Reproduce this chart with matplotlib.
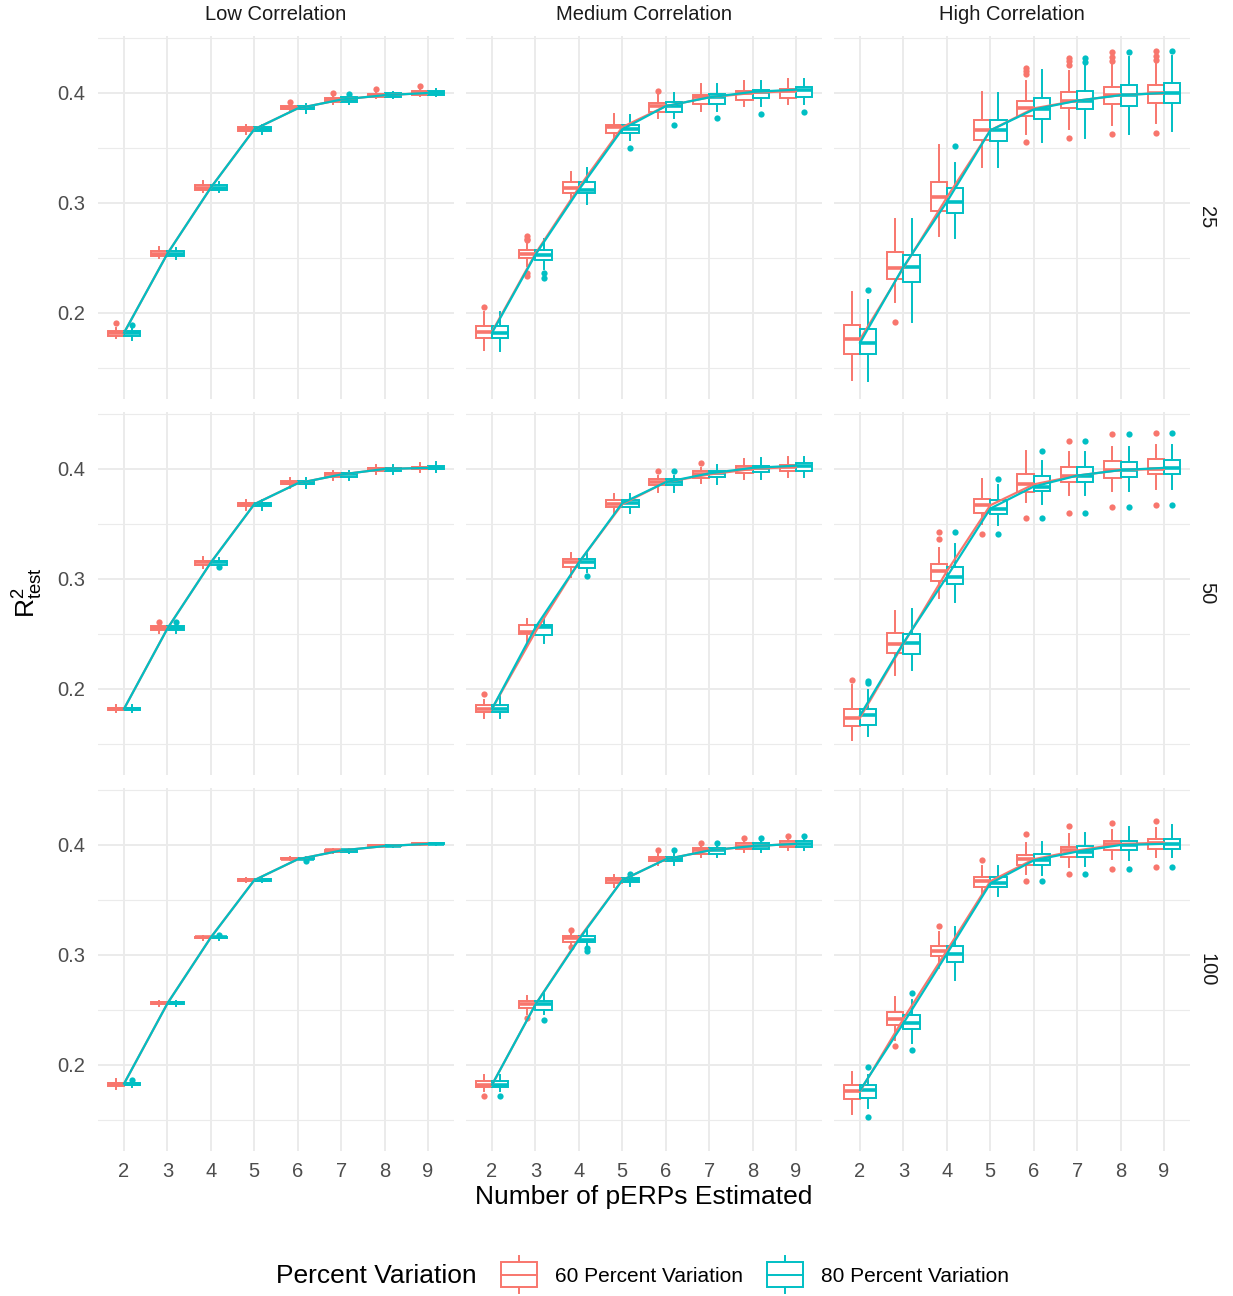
import matplotlib
matplotlib.use("Agg")
import matplotlib.pyplot as plt
from matplotlib.patches import Rectangle

plt.rcParams['font.family'] = ['Liberation Sans', 'DejaVu Sans']
plt.rcParams['mathtext.fontset'] = 'custom'
plt.rcParams['mathtext.rm'] = 'Liberation Sans'
plt.rcParams['mathtext.it'] = 'Liberation Sans:italic'

# x categories, facets, groups
n_perps = [2, 3, 4, 5, 6, 7, 8, 9]
corr_levels = ["Low Correlation", "Medium Correlation", "High Correlation"]
sample_sizes = ["25", "50", "100"]
group_labels = ["60 Percent Variation", "80 Percent Variation"]

# box stats per x: [whisker low, q1, median, q3, whisker high]
low_25_p60 = [[0.177, 0.179, 0.182, 0.184, 0.186], [0.250, 0.252, 0.254, 0.256, 0.260],
              [0.310, 0.312, 0.314, 0.316, 0.320], [0.363, 0.365, 0.367, 0.369, 0.371],
              [0.383, 0.385, 0.386, 0.388, 0.389], [0.390, 0.392, 0.394, 0.395, 0.397],
              [0.395, 0.396, 0.398, 0.399, 0.401], [0.397, 0.398, 0.400, 0.402, 0.403]]
low_25_p80 = [[0.175, 0.179, 0.182, 0.184, 0.186], [0.249, 0.252, 0.254, 0.256, 0.259],
              [0.310, 0.312, 0.314, 0.316, 0.319], [0.363, 0.365, 0.367, 0.369, 0.371],
              [0.382, 0.385, 0.386, 0.388, 0.390], [0.390, 0.392, 0.394, 0.396, 0.398],
              [0.395, 0.396, 0.398, 0.400, 0.401], [0.397, 0.398, 0.400, 0.402, 0.404]]
low_50_p60 = [[0.179, 0.181, 0.182, 0.183, 0.185], [0.251, 0.254, 0.255, 0.257, 0.259],
              [0.310, 0.313, 0.315, 0.316, 0.320], [0.363, 0.366, 0.368, 0.369, 0.372],
              [0.383, 0.386, 0.387, 0.389, 0.392], [0.390, 0.393, 0.395, 0.396, 0.398],
              [0.395, 0.398, 0.400, 0.401, 0.404], [0.397, 0.400, 0.401, 0.402, 0.405]]
low_50_p80 = [[0.179, 0.181, 0.182, 0.183, 0.185], [0.251, 0.254, 0.255, 0.257, 0.258],
              [0.310, 0.313, 0.315, 0.316, 0.319], [0.363, 0.366, 0.368, 0.369, 0.372],
              [0.383, 0.386, 0.387, 0.389, 0.392], [0.390, 0.393, 0.395, 0.396, 0.398],
              [0.395, 0.398, 0.400, 0.401, 0.404], [0.397, 0.400, 0.401, 0.403, 0.406]]
low_100_p60 = [[0.178, 0.181, 0.183, 0.184, 0.187], [0.254, 0.255, 0.256, 0.257, 0.258],
               [0.314, 0.315, 0.316, 0.316, 0.317], [0.366, 0.367, 0.368, 0.369, 0.370],
               [0.386, 0.387, 0.387, 0.388, 0.389], [0.393, 0.394, 0.395, 0.395, 0.396],
               [0.398, 0.399, 0.399, 0.400, 0.400], [0.400, 0.401, 0.401, 0.402, 0.402]]
low_100_p80 = [[0.180, 0.182, 0.183, 0.184, 0.185], [0.254, 0.255, 0.256, 0.257, 0.258],
               [0.314, 0.315, 0.316, 0.316, 0.317], [0.366, 0.367, 0.368, 0.369, 0.370],
               [0.386, 0.387, 0.387, 0.388, 0.389], [0.393, 0.394, 0.395, 0.395, 0.396],
               [0.398, 0.399, 0.399, 0.400, 0.400], [0.400, 0.401, 0.401, 0.402, 0.402]]

med_25_p60 = [[0.166, 0.177, 0.183, 0.188, 0.201], [0.243, 0.250, 0.254, 0.257, 0.263],
              [0.302, 0.309, 0.314, 0.319, 0.328], [0.358, 0.364, 0.369, 0.371, 0.381],
              [0.377, 0.383, 0.388, 0.391, 0.399], [0.384, 0.390, 0.396, 0.398, 0.408],
              [0.388, 0.394, 0.400, 0.402, 0.411], [0.390, 0.395, 0.402, 0.404, 0.413]]
med_25_p80 = [[0.165, 0.177, 0.182, 0.188, 0.201], [0.240, 0.248, 0.253, 0.257, 0.267],
              [0.299, 0.309, 0.312, 0.319, 0.332], [0.357, 0.364, 0.367, 0.371, 0.380],
              [0.377, 0.383, 0.388, 0.392, 0.400], [0.384, 0.390, 0.396, 0.399, 0.408],
              [0.388, 0.395, 0.401, 0.403, 0.411], [0.390, 0.396, 0.403, 0.405, 0.413]]
med_50_p60 = [[0.174, 0.179, 0.182, 0.185, 0.190], [0.243, 0.250, 0.252, 0.258, 0.264],
              [0.302, 0.311, 0.315, 0.318, 0.324], [0.360, 0.365, 0.368, 0.372, 0.377],
              [0.379, 0.385, 0.388, 0.391, 0.394], [0.387, 0.392, 0.395, 0.398, 0.401],
              [0.391, 0.396, 0.400, 0.403, 0.409], [0.393, 0.398, 0.402, 0.404, 0.411]]
med_50_p80 = [[0.174, 0.179, 0.182, 0.185, 0.195], [0.242, 0.249, 0.256, 0.258, 0.264],
              [0.306, 0.310, 0.315, 0.318, 0.324], [0.360, 0.365, 0.369, 0.372, 0.377],
              [0.379, 0.385, 0.388, 0.391, 0.394], [0.386, 0.393, 0.396, 0.398, 0.404],
              [0.391, 0.397, 0.401, 0.403, 0.410], [0.393, 0.398, 0.403, 0.405, 0.411]]
med_100_p60 = [[0.176, 0.180, 0.182, 0.185, 0.191], [0.246, 0.252, 0.255, 0.258, 0.263],
               [0.309, 0.312, 0.315, 0.317, 0.320], [0.362, 0.365, 0.368, 0.370, 0.373],
               [0.382, 0.385, 0.387, 0.389, 0.392], [0.389, 0.392, 0.395, 0.397, 0.400],
               [0.394, 0.396, 0.399, 0.402, 0.404], [0.395, 0.398, 0.401, 0.404, 0.406]]
med_100_p80 = [[0.176, 0.180, 0.182, 0.185, 0.191], [0.246, 0.250, 0.255, 0.258, 0.265],
               [0.309, 0.312, 0.314, 0.317, 0.323], [0.363, 0.366, 0.368, 0.370, 0.372],
               [0.382, 0.385, 0.387, 0.389, 0.392], [0.389, 0.392, 0.395, 0.397, 0.400],
               [0.394, 0.396, 0.399, 0.402, 0.404], [0.395, 0.398, 0.401, 0.404, 0.406]]

high_25_p60 = [[0.139, 0.163, 0.176, 0.189, 0.219], [0.210, 0.231, 0.241, 0.255, 0.285],
               [0.270, 0.293, 0.305, 0.319, 0.353], [0.333, 0.357, 0.366, 0.375, 0.401],
               [0.363, 0.379, 0.386, 0.393, 0.411], [0.367, 0.386, 0.393, 0.401, 0.420],
               [0.371, 0.390, 0.398, 0.405, 0.426], [0.373, 0.391, 0.400, 0.407, 0.428]]
high_25_p80 = [[0.138, 0.163, 0.173, 0.185, 0.212], [0.192, 0.228, 0.242, 0.253, 0.285],
               [0.268, 0.291, 0.301, 0.314, 0.336], [0.333, 0.356, 0.366, 0.375, 0.400],
               [0.355, 0.376, 0.385, 0.395, 0.421], [0.359, 0.385, 0.393, 0.402, 0.426],
               [0.363, 0.388, 0.398, 0.407, 0.433], [0.365, 0.391, 0.400, 0.409, 0.434]]
high_50_p60 = [[0.154, 0.166, 0.174, 0.182, 0.204], [0.213, 0.233, 0.241, 0.251, 0.271],
               [0.283, 0.298, 0.307, 0.314, 0.328], [0.350, 0.360, 0.367, 0.373, 0.391],
               [0.370, 0.379, 0.386, 0.395, 0.416], [0.376, 0.388, 0.394, 0.402, 0.415],
               [0.380, 0.392, 0.399, 0.407, 0.420], [0.382, 0.395, 0.400, 0.409, 0.422]]
high_50_p80 = [[0.157, 0.167, 0.176, 0.182, 0.199], [0.217, 0.232, 0.242, 0.250, 0.273],
               [0.279, 0.295, 0.302, 0.311, 0.332], [0.349, 0.359, 0.364, 0.372, 0.385],
               [0.368, 0.380, 0.384, 0.394, 0.407], [0.376, 0.388, 0.394, 0.402, 0.415],
               [0.380, 0.393, 0.399, 0.406, 0.420], [0.382, 0.395, 0.401, 0.408, 0.422]]
high_100_p60 = [[0.155, 0.169, 0.176, 0.182, 0.194], [0.223, 0.236, 0.242, 0.248, 0.262],
                [0.288, 0.299, 0.304, 0.308, 0.321], [0.355, 0.362, 0.367, 0.371, 0.381],
                [0.374, 0.382, 0.387, 0.391, 0.402], [0.380, 0.389, 0.395, 0.398, 0.410],
                [0.387, 0.395, 0.401, 0.404, 0.414], [0.389, 0.396, 0.402, 0.405, 0.415]]
high_100_p80 = [[0.161, 0.170, 0.177, 0.182, 0.191], [0.220, 0.233, 0.238, 0.245, 0.259],
                [0.277, 0.294, 0.301, 0.308, 0.325], [0.354, 0.362, 0.365, 0.371, 0.381],
                [0.373, 0.382, 0.386, 0.392, 0.403], [0.381, 0.389, 0.394, 0.399, 0.411],
                [0.386, 0.395, 0.400, 0.404, 0.416], [0.389, 0.396, 0.401, 0.405, 0.418]]

# outliers as (x, value)
low_25_p60_out = [(2, 0.191), (6, 0.392), (7, 0.400), (8, 0.404), (9, 0.406)]
low_25_p80_out = [(2, 0.189), (7, 0.399)]
low_50_p60_out = [(3, 0.261)]
low_50_p80_out = [(3, 0.261), (4, 0.311)]
low_100_p60_out = []
low_100_p80_out = [(2, 0.186), (4, 0.318), (6, 0.385)]
med_25_p60_out = [(2, 0.205), (3, 0.270), (3, 0.267), (3, 0.266), (3, 0.236), (3, 0.234), (6, 0.402)]
med_25_p80_out = [(3, 0.236), (3, 0.232), (5, 0.350), (6, 0.371), (7, 0.377), (8, 0.381), (9, 0.383)]
med_50_p60_out = [(2, 0.195), (6, 0.398), (7, 0.405)]
med_50_p80_out = [(4, 0.303), (6, 0.398)]
med_100_p60_out = [(2, 0.172), (3, 0.243), (4, 0.323), (4, 0.307), (6, 0.395), (7, 0.402),
                   (8, 0.406), (9, 0.408)]
med_100_p80_out = [(2, 0.172), (3, 0.241), (4, 0.306), (4, 0.304), (5, 0.374), (6, 0.395),
                   (7, 0.402), (8, 0.406), (9, 0.408)]
high_25_p60_out = [(3, 0.192), (6, 0.423), (6, 0.420), (6, 0.417), (6, 0.355), (7, 0.432),
                   (7, 0.429), (7, 0.425), (7, 0.359), (8, 0.437), (8, 0.433), (8, 0.429),
                   (8, 0.363), (9, 0.438), (9, 0.434), (9, 0.430), (9, 0.364)]
high_25_p80_out = [(2, 0.221), (4, 0.352), (7, 0.432), (7, 0.428), (8, 0.437), (9, 0.438)]
high_50_p60_out = [(2, 0.208), (4, 0.343), (4, 0.336), (5, 0.341), (6, 0.355), (7, 0.425),
                   (7, 0.360), (8, 0.432), (8, 0.365), (9, 0.433), (9, 0.367)]
high_50_p80_out = [(2, 0.207), (2, 0.205), (4, 0.343), (5, 0.391), (5, 0.341), (6, 0.416),
                   (6, 0.355), (7, 0.425), (7, 0.360), (8, 0.432), (8, 0.365), (9, 0.433),
                   (9, 0.367)]
high_100_p60_out = [(3, 0.217), (4, 0.326), (5, 0.386), (6, 0.410), (6, 0.367), (7, 0.417),
                    (7, 0.374), (8, 0.420), (8, 0.378), (9, 0.422), (9, 0.380)]
high_100_p80_out = [(2, 0.198), (2, 0.153), (3, 0.265), (3, 0.214), (6, 0.367), (7, 0.374),
                    (8, 0.378), (9, 0.380)]

panels = {
    ("Low Correlation", "25"): (low_25_p60, low_25_p80, low_25_p60_out, low_25_p80_out),
    ("Low Correlation", "50"): (low_50_p60, low_50_p80, low_50_p60_out, low_50_p80_out),
    ("Low Correlation", "100"): (low_100_p60, low_100_p80, low_100_p60_out, low_100_p80_out),
    ("Medium Correlation", "25"): (med_25_p60, med_25_p80, med_25_p60_out, med_25_p80_out),
    ("Medium Correlation", "50"): (med_50_p60, med_50_p80, med_50_p60_out, med_50_p80_out),
    ("Medium Correlation", "100"): (med_100_p60, med_100_p80, med_100_p60_out, med_100_p80_out),
    ("High Correlation", "25"): (high_25_p60, high_25_p80, high_25_p60_out, high_25_p80_out),
    ("High Correlation", "50"): (high_50_p60, high_50_p80, high_50_p60_out, high_50_p80_out),
    ("High Correlation", "100"): (high_100_p60, high_100_p80, high_100_p60_out, high_100_p80_out),
}

colors = ["#F8766D", "#00BFC4"]
W, H = 1233, 1296
fig = plt.figure(figsize=(W / 100, H / 100), dpi=100)

# panel geometry in pixels
col_left = [98, 466, 834]
row_top = [36, 412, 788]
pw, ph = 356, 363
dodge = 0.1875
box_w = 0.375


def draw_group(ax, rows, outs, color, offset):
    stats = []
    for x, r in zip(n_perps, rows):
        stats.append(dict(whislo=r[0], q1=r[1], med=r[2], q3=r[3], whishi=r[4],
                          fliers=[v for (ox, v) in outs if ox == x]))
    ax.bxp(stats, positions=[x + offset for x in n_perps], widths=box_w,
           patch_artist=True, showcaps=False, manage_ticks=False,
           boxprops=dict(facecolor='white', edgecolor=color, linewidth=1.4),
           whiskerprops=dict(color=color, linewidth=1.4),
           medianprops=dict(color=color, linewidth=2.6, solid_capstyle='butt'),
           flierprops=dict(marker='o', markerfacecolor=color, markeredgecolor='none',
                           markersize=4.5))


for j, corr in enumerate(corr_levels):
    for i, n in enumerate(sample_sizes):
        ax = fig.add_axes([col_left[j] / W, 1 - (row_top[i] + ph) / H, pw / W, ph / H])
        p60, p80, out60, out80 = panels[(corr, n)]
        draw_group(ax, p60, out60, colors[0], -dodge)
        draw_group(ax, p80, out80, colors[1], dodge)
        ax.plot(n_perps, [r[2] for r in p60], color=colors[0], lw=1.6, zorder=5)
        ax.plot(n_perps, [r[2] for r in p80], color=colors[1], lw=1.6, zorder=6)

        ax.set_xlim(1.4, 9.6)
        ax.set_ylim(0.1218, 0.4518)
        ax.set_xticks(n_perps)
        ax.set_yticks([0.2, 0.3, 0.4])
        ax.set_yticks([0.15, 0.25, 0.35, 0.45], minor=True)
        ax.set_yticklabels(["0.2", "0.3", "0.4"])
        ax.grid(which='major', color='#EBEBEB', lw=1.4)
        ax.grid(which='minor', axis='y', color='#EBEBEB', lw=0.8)
        ax.set_axisbelow(True)
        for s in ax.spines.values():
            s.set_visible(False)
        ax.tick_params(which='both', length=0, labelsize=14.5, colors='#4D4D4D')
        ax.tick_params(axis='y', pad=9)
        ax.tick_params(axis='x', pad=8)
        if j > 0:
            ax.tick_params(axis='y', labelleft=False)
        if i < 2:
            ax.tick_params(axis='x', labelbottom=False)

        if i == 0:
            fig.text((col_left[j] + pw / 2) / W, 1 - 15 / H, corr, ha='center', va='center',
                     fontsize=14.5, color='#1A1A1A')
        if j == 2:
            fig.text(1207 / W, 1 - (row_top[i] + ph / 2) / H, n, ha='center', va='center',
                     rotation=-90, fontsize=14.5, color='#1A1A1A')

fig.text(28 / W, 1 - 593 / H, r'$\mathrm{R}^{2}_{\mathrm{test}}$', rotation=90,
         ha='center', va='center', fontsize=19)
fig.text(644 / W, 1 - 1197 / H, "Number of pERPs Estimated", ha='center', va='center',
         fontsize=19)

# legend drawn in pixel space
leg = fig.add_axes([0, 0, 1, 1])
leg.set_xlim(0, W)
leg.set_ylim(H, 0)
leg.axis('off')
leg.text(276, 1276, "Percent Variation", ha='left', va='center', fontsize=19)
for k, (x0, tx) in enumerate([(501, 555), (767, 821)]):
    c = colors[k]
    leg.plot([x0 + 18, x0 + 18], [1256, 1293], color=c, lw=1.4, zorder=1)
    leg.add_patch(Rectangle((x0, 1262), 36, 25, facecolor='white', edgecolor=c, lw=1.4,
                            zorder=2))
    leg.plot([x0, x0 + 36], [1275, 1275], color=c, lw=1.4, zorder=3)
    leg.text(tx, 1276, group_labels[k], ha='left', va='center', fontsize=15)

fig.savefig("out.png", dpi=100)
